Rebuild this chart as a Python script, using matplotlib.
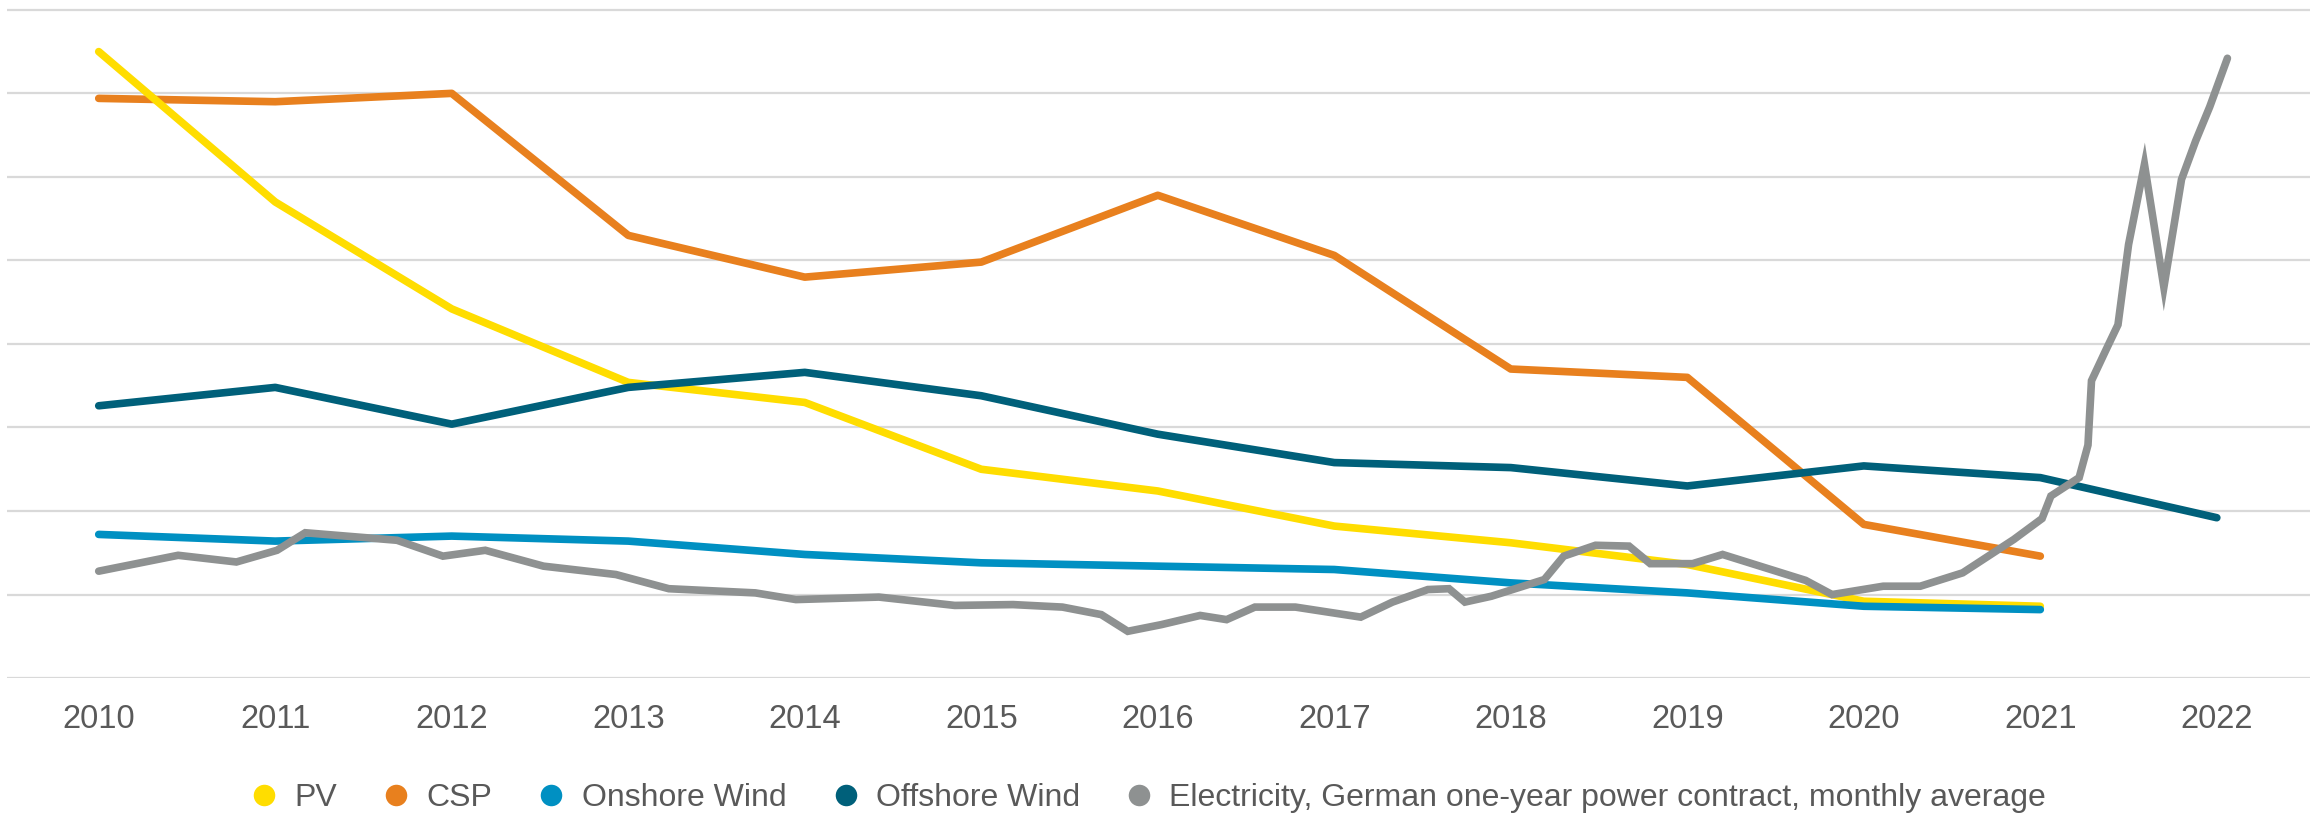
import numpy as np
import matplotlib.pyplot as plt
from matplotlib.lines import Line2D

plt.rcParams['font.family'] = ['Liberation Sans', 'DejaVu Sans']

# yearly values (arbitrary units, gridline every 50)
years = [2010, 2011, 2012, 2013, 2014, 2015, 2016, 2017, 2018, 2019, 2020, 2021]
years_off = [2010, 2011, 2012, 2013, 2014, 2015, 2016, 2017, 2018, 2019, 2020, 2021, 2022]
pv = [375, 285, 221, 177, 165, 125, 112, 91, 81, 68, 46, 43]
csp = [347, 345, 350, 265, 240, 249, 289, 253, 185, 180, 92, 73]
onshore = [86, 82, 85, 82, 74, 69, 67, 65, 57, 51, 43, 41]
offshore = [163, 174, 152, 174, 183, 169, 146, 129, 126, 115, 127, 120, 96]

# electricity price (fractional year, value)
elec_t = [2010.0, 2010.45, 2010.78, 2011.01, 2011.17, 2011.69, 2011.95, 2012.19,
          2012.52, 2012.93, 2013.23, 2013.72, 2013.95, 2014.42, 2014.85, 2015.18,
          2015.46, 2015.68, 2015.83, 2016.02, 2016.24, 2016.39, 2016.55, 2016.78,
          2017.15, 2017.33, 2017.53, 2017.65, 2017.74, 2017.89, 2018.19, 2018.30,
          2018.48, 2018.67, 2018.79, 2019.03, 2019.20, 2019.67, 2019.82, 2020.11,
          2020.32, 2020.56, 2020.85, 2021.01, 2021.06, 2021.22, 2021.27, 2021.29,
          2021.37, 2021.44, 2021.50, 2021.59, 2021.70, 2021.80, 2021.88, 2021.96,
          2022.06]
elec_v = [64, 73.5, 69.5, 76.5, 87, 82.5, 73, 76.5,
          67, 62, 53.5, 51, 47, 48.5, 43.5, 44,
          42.5, 38, 28, 32, 37.5, 35, 42.5, 42.5,
          36.5, 45.5, 53, 53.5, 45.5, 49, 59, 73,
          79.5, 79, 68.5, 68.5, 74, 58.5, 50, 55,
          55, 63, 83, 95.5, 109, 120, 139.5, 178,
          196, 211.5, 259.5, 307.5, 234, 298.5, 321.5, 342,
          371]

c_pv = '#FFDD00'
c_csp = '#E8801E'
c_on = '#0090C2'
c_off = '#00607A'
c_el = '#8E9191'

fig = plt.figure(figsize=(23.15, 8.16), dpi=100)
ax = fig.add_axes([0.003, 0.169, 0.995, 0.821])

lw = 5.5
ax.plot(years, csp, color=c_csp, lw=lw, solid_capstyle='round', solid_joinstyle='round', zorder=3)
ax.plot(years, pv, color=c_pv, lw=lw, solid_capstyle='round', solid_joinstyle='round', zorder=4)
ax.plot(years, onshore, color=c_on, lw=lw, solid_capstyle='round', solid_joinstyle='round', zorder=5)
ax.plot(years_off, offshore, color=c_off, lw=lw, solid_capstyle='round', solid_joinstyle='round', zorder=6)
ax.plot(elec_t, elec_v, color=c_el, lw=lw, solid_capstyle='round', solid_joinstyle='miter', zorder=7)

ax.set_xlim(2009.48, 2022.53)
ax.set_ylim(0, 401)
ax.set_yticks(np.arange(0, 401, 50))
ax.set_xticks(years_off)
ax.set_xticklabels([str(y) for y in years_off])
ax.yaxis.grid(True, color='#D9D9D9', lw=1.6)
ax.set_axisbelow(True)
for s in ax.spines.values():
    s.set_visible(False)
ax.tick_params(axis='y', left=False, labelleft=False)
ax.tick_params(axis='x', length=0, pad=19, labelsize=23.5, labelcolor='#595959')

labels = ['PV', 'CSP', 'Onshore Wind', 'Offshore Wind',
          'Electricity, German one-year power contract, monthly average']
colors = [c_pv, c_csp, c_on, c_off, c_el]
handles = [Line2D([], [], ls='none', marker='o', markersize=15.5, color=c, markeredgewidth=0)
           for c in colors]
fig.legend(handles, labels, loc='center', bbox_to_anchor=(0.4955, 0.022), ncol=5,
           frameon=False, fontsize=23, labelcolor='#595959', handlelength=1.0,
           handletextpad=0.45, columnspacing=1.35, borderpad=0, borderaxespad=0)

fig.savefig('out.png', dpi=100)
